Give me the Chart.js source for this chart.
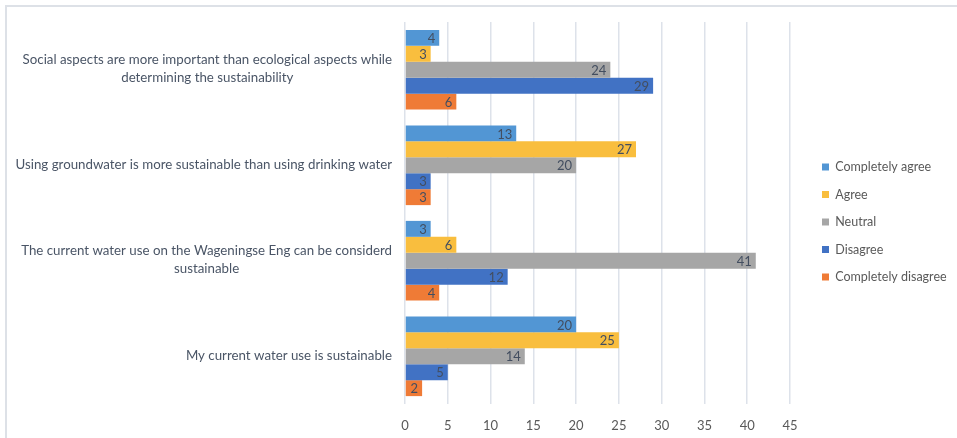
<!DOCTYPE html>
<html><head><meta charset="utf-8">
<script src="https://cdn.jsdelivr.net/npm/chart.js@4.4.0/dist/chart.umd.min.js"></script>
<style>
html,body{margin:0;padding:0;background:#fff;}
#wrap{position:relative;width:957px;height:438px;overflow:hidden;}
#frame{position:absolute;left:5px;top:5px;right:-5px;bottom:-5px;border-top:2px solid #dde1e7;border-left:2px solid #dde1e7;}
canvas{position:absolute;left:0;top:0;}
</style></head><body>
<div id="wrap"><div id="frame"></div><canvas id="c" width="957" height="438"></canvas></div>
<script>
const categories = [
  ["Social aspects are more important than ecological aspects while", "determining the sustainability"],
  ["Using groundwater is more sustainable than using drinking water"],
  ["The current water use on the Wageningse Eng can be considerd", "sustainable"],
  ["My current water use is sustainable"]
];
const seriesNames = ["Completely agree", "Agree", "Neutral", "Disagree", "Completely disagree"];
const completelyAgree = [4, 13, 3, 20];
const agree = [3, 27, 6, 25];
const neutral = [24, 20, 41, 14];
const disagree = [29, 3, 12, 5];
const completelyDisagree = [6, 3, 4, 2];
const xTickMin = 0, xTickMax = 45, xTickStep = 5;

const colors = ["#5296d4", "#f9be3e", "#a6a6a6", "#4172c4", "#ef7b36"];
const seriesData = [completelyAgree, agree, neutral, disagree, completelyDisagree];

const FONT = "Lato, 'Open Sans', sans-serif";
const TEXT = "#4a5566";

const catLabelPlugin = {
  id: 'catLabels',
  afterDraw(chart) {
    const ctx = chart.ctx;
    const ys = chart.scales.y;
    const rightEdge = chart.chartArea.left - 13;
    ctx.save();
    ctx.font = "13.3px " + FONT;
    ctx.fillStyle = TEXT;
    ctx.textAlign = 'center';
    ctx.textBaseline = 'middle';
    const lh = 18;
    categories.forEach((lines, i) => {
      const cy = ys.getPixelForValue(i);
      const maxW = Math.max(...lines.map(l => ctx.measureText(l).width));
      const cx = rightEdge - maxW / 2;
      const y0 = cy - 1 - (lines.length - 1) * lh / 2;
      lines.forEach((l, j) => ctx.fillText(l, cx, y0 + j * lh));
    });
    ctx.restore();
  }
};

const valueLabelPlugin = {
  id: 'valueLabels',
  afterDatasetsDraw(chart) {
    const ctx = chart.ctx;
    ctx.save();
    ctx.font = "13px " + FONT;
    ctx.fillStyle = "#434e60";
    ctx.textAlign = 'right';
    ctx.textBaseline = 'middle';
    chart.data.datasets.forEach((ds, di) => {
      const meta = chart.getDatasetMeta(di);
      meta.data.forEach((el, i) => {
        ctx.fillText(String(ds.data[i]), el.x - 4, el.y + 1);
      });
    });
    ctx.restore();
  }
};

const legendFix = {
  id: 'legendFix',
  beforeLayout(chart) {
    const lg = chart.legend;
    if (lg && !lg._patched) {
      const f = lg.fit.bind(lg);
      lg.fit = function () { f(); this.width = 167; };
      lg._patched = true;
    }
  },
  afterLayout(chart) {
    const lg = chart.legend;
    if (lg) { lg.left += 17; lg.right += 17; lg.top -= 8; lg.bottom -= 8; }
  }
};

new Chart(document.getElementById('c'), {
  type: 'bar',
  data: {
    labels: categories.map(c => c.join(' ')),
    datasets: seriesNames.map((n, i) => ({
      label: n,
      data: seriesData[i],
      backgroundColor: colors[i],
      borderWidth: 0,
      categoryPercentage: 0.835,
      barPercentage: 1.0
    }))
  },
  options: {
    indexAxis: 'y',
    responsive: false,
    animation: false,
    devicePixelRatio: 1,
    layout: { padding: { top: 22, bottom: 0, left: 0, right: 0 } },
    scales: {
      x: {
        min: xTickMin, max: xTickMax,
        ticks: { stepSize: xTickStep, color: "#595959", font: { family: FONT, size: 13 }, padding: 14 },
        grid: { color: "#dde2ea", lineWidth: 1.5, drawTicks: false },
        border: { display: false },
        afterFit(s) { s.height = 34; }
      },
      y: {
        ticks: { display: false },
        grid: { display: false },
        border: { display: false },
        afterFit(s) { s.width = 405; }
      }
    },
    plugins: {
      legend: {
        position: 'right',
        labels: { boxWidth: 7, boxHeight: 7, padding: 15, color: "#595959", font: { family: FONT, size: 12.5 } }
      },
      tooltip: { enabled: false }
    }
  },
  plugins: [legendFix, catLabelPlugin, valueLabelPlugin]
});
</script>
</body></html>
